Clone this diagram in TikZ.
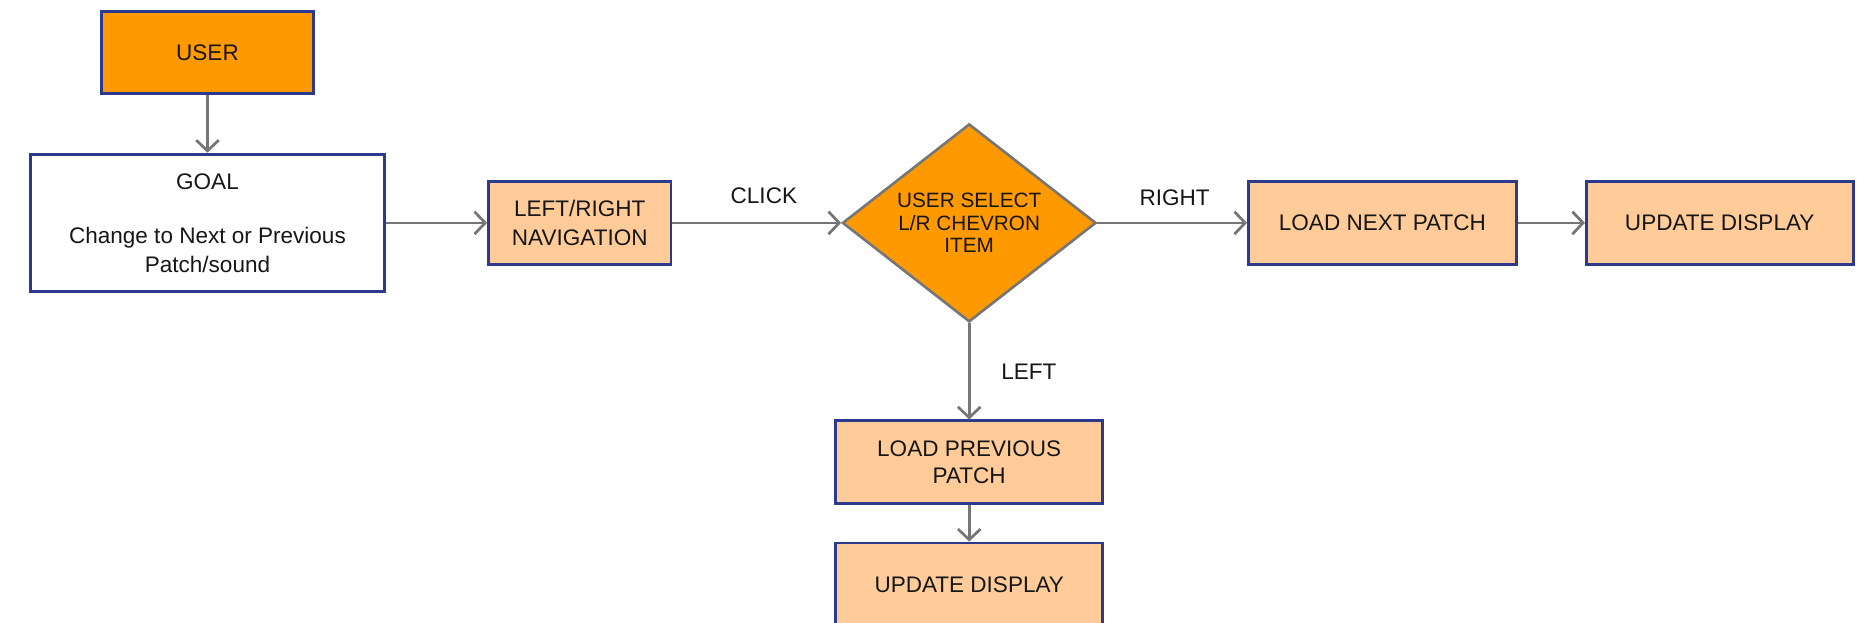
\documentclass[tikz,border=0pt]{standalone}
\usepackage{fontspec}
\setmainfont{Liberation Sans}
\usetikzlibrary{shapes.geometric,arrows.meta}
\definecolor{deeporange}{HTML}{FF9900}
\definecolor{lightorange}{HTML}{FFCC99}
\definecolor{boxblue}{HTML}{2B3A8C}
\definecolor{linegray}{HTML}{767676}
\definecolor{textdark}{HTML}{161616}

\begin{document}
\begin{tikzpicture}[x=1pt,y=-1pt,
  every node/.style={font=\fontsize{19}{24}\selectfont, text=textdark},
  procbox/.style={draw=boxblue, line width=2.4pt, fill=lightorange,
    minimum width=225pt, minimum height=70pt, align=center, inner sep=0pt},
  startbox/.style={procbox, fill=deeporange, minimum width=179pt, minimum height=69pt},
  goalbox/.style={procbox, fill=white, minimum width=298pt, minimum height=116pt},
  decision/.style={diamond, draw=linegray, line width=2.2pt, fill=deeporange,
    shape aspect=1.28, minimum width=214pt, minimum height=167pt, inner sep=0pt,
    align=center, font=\fontsize{17.5}{19}\selectfont},
  flow/.style={draw=linegray, line width=2.3pt,
    -{Straight Barb[length=9pt,width=19pt,line width=2.3pt]}},
  edgelabel/.style={font=\fontsize{19}{24}\selectfont, inner sep=0pt}
]
% page frame, the lowest box runs past the bottom edge
\clip (0,0) rectangle (1568,525);
\fill[white] (0,0) rectangle (1568,525);

% boxes
\node[startbox] (user) at (175,44.5) {USER};
\node[goalbox] (goal) at (175,188) {GOAL\\[22pt]Change to Next or Previous\\Patch/sound};
\node[procbox, minimum width=154pt] (nav) at (489,188) {LEFT/RIGHT\\NAVIGATION};
\node[decision] (select) at (817.5,188) {USER SELECT\\L/R CHEVRON\\ITEM};
\node[procbox, minimum width=226pt] (next) at (1166,188) {LOAD NEXT PATCH};
\node[procbox] (updright) at (1450.5,188) {UPDATE DISPLAY};
\node[procbox, font=\fontsize{19}{23}\selectfont] (prev) at (817.5,390) {LOAD PREVIOUS\\PATCH};
\node[procbox] (updlow) at (817.5,493) {UPDATE DISPLAY};

% connectors
\draw[flow] (user) -- (goal);
\draw[flow] (goal) -- (nav);
\draw[flow] (nav) -- node[edgelabel, midway, above=15pt, xshift=6pt] {CLICK} (select);
\draw[flow] (select) -- node[edgelabel, midway, above=13pt, xshift=2pt] {RIGHT} (next);
\draw[flow] (next) -- (updright);
\draw[flow] (select) -- node[edgelabel, midway, right=26pt] {LEFT} (prev);
\draw[flow] (prev) -- (updlow);
\end{tikzpicture}
\end{document}
